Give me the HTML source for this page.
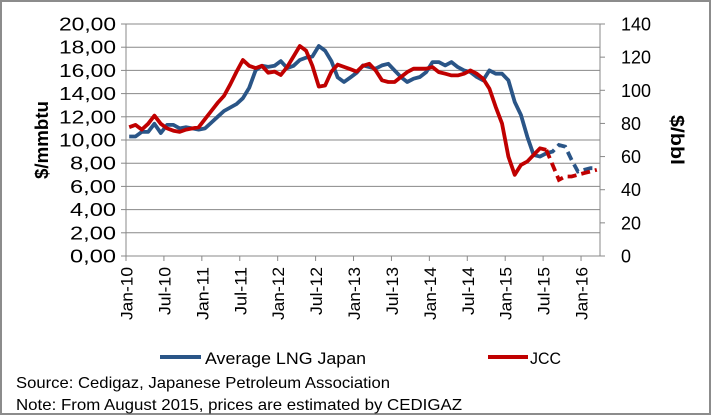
<!DOCTYPE html>
<html><head><meta charset="utf-8"><style>
html,body{margin:0;padding:0;background:#fff}
svg{display:block}
text{font-family:"Liberation Sans",sans-serif;fill:#000}
</style></head><body>
<svg id="s" width="711" height="415" viewBox="0 0 711 415" xmlns="http://www.w3.org/2000/svg">
<rect x="1" y="1" width="709" height="413" fill="#fff" stroke="#8c8c8c" stroke-width="2"/>
<g id="grid"></g>
<text transform="translate(48,140) rotate(-90)" text-anchor="middle" font-size="18" font-weight="bold" textLength="78" lengthAdjust="spacingAndGlyphs">$/mmbtu</text>
<text transform="translate(671,140) rotate(90)" text-anchor="middle" font-size="18" font-weight="bold" textLength="50" lengthAdjust="spacingAndGlyphs">$/bbl</text>
<line x1="160" y1="357" x2="201" y2="357" stroke="#2a5587" stroke-width="4"/>
<text x="205" y="364" font-size="17" textLength="161" lengthAdjust="spacingAndGlyphs">Average LNG Japan</text>
<line x1="488" y1="357" x2="528" y2="357" stroke="#c00000" stroke-width="4"/>
<text x="530" y="364" font-size="17" textLength="31" lengthAdjust="spacingAndGlyphs">JCC</text>
<text x="16" y="388" font-size="16" textLength="374" lengthAdjust="spacingAndGlyphs">Source: Cedigaz, Japanese Petroleum Association</text>
<text x="16" y="410" font-size="16" textLength="446" lengthAdjust="spacingAndGlyphs">Note: From August 2015, prices are estimated by CEDIGAZ</text>
</svg>
<script>
var NS="http://www.w3.org/2000/svg",g=document.getElementById("grid");
function el(t,a,p){var e=document.createElementNS(NS,t);for(var k in a)e.setAttribute(k,a[k]);(p||g).appendChild(e);return e;}
var L=126,R=600,T=24,B=256;
for(var i=0;i<=10;i++){var y=B-(B-T)*i/10;
 if(i>0)el("line",{x1:L,x2:R,y1:y,y2:y,stroke:"#888","stroke-width":1});
 el("line",{x1:L-5,x2:L,y1:y,y2:y,stroke:"#888"});
 var s=(2*i).toFixed(2).replace(".",",");
 var t=el("text",{x:116,y:y+6.5,"text-anchor":"end","font-size":"18",textLength:s.length==5?57:46,lengthAdjust:"spacingAndGlyphs"});t.textContent=s;}
for(var i=0;i<=7;i++){var y=B-(B-T)*i/7;
 el("line",{x1:R,x2:R+5,y1:y,y2:y,stroke:"#888"});
 var s=""+20*i;
 var t=el("text",{x:621,y:y+6.5,"font-size":"18",textLength:s.length*10,lengthAdjust:"spacingAndGlyphs"});t.textContent=s;}
el("line",{x1:L,x2:L,y1:T,y2:B,stroke:"#888"});
el("line",{x1:R,x2:R,y1:T,y2:B,stroke:"#888"});
el("line",{x1:L,x2:R,y1:B,y2:B,stroke:"#888"});
var labs=["Jan-10","Jul-10","Jan-11","Jul-11","Jan-12","Jul-12","Jan-13","Jul-13","Jan-14","Jul-14","Jan-15","Jul-15","Jan-16"];
var dx=(R-L)/75;
for(var i=0;i<13;i++){var x=L+i*6*dx;
 el("line",{x1:x,x2:x,y1:B,y2:B+5,stroke:"#888"});
 var t=el("text",{transform:"translate("+(x+6.5)+",267) rotate(-90)","text-anchor":"end","font-size":"17",textLength:labs[i][0]=="J"&&labs[i][1]=="u"?48:53,lengthAdjust:"spacingAndGlyphs"});t.textContent=labs[i];}
var blueL=[10.3,10.3,10.7,10.7,11.4,10.6,11.3,11.3,11.0,11.1,11.0,10.9,11.0,11.5,12.0,12.5,12.8,13.1,13.6,14.5,16.0,16.4,16.3,16.4,16.8,16.2,16.4,16.9,17.1,17.2,18.1,17.7,16.8,15.4,15.0,15.4,15.8];
var blue=blueL.map(function(v){return v*7}).concat([115,114,113,115,116,112,108,105,107,108,111,117,117,115,117,114,112,111,108,106,112,110,110,106,93,85,72,61,60,62,63,67,66,58,51,52,53,53]);
var redL=[11.1,11.3,10.9,11.4,12.1,11.4,11.0,10.8,10.7,10.9,11.0,11.1,11.8,12.5,13.2,13.8,14.8,15.9,16.9,16.4,16.2,16.4,15.8,15.9,15.6,16.3,17.2,18.1,17.7,16.4,14.6,14.7,15.9,16.5,16.3,16.1,15.9,16.4];
var red=redL.map(function(v){return v*7}).concat([116,112,106,105,105,108,111,113,113,113,114,111,110,109,109,110,112,110,107,101,90,80,60,49,55,57,61,65,64,55,46,48,48,49,50,51,52]);
function pts(a,s,e){var p=[];for(var i=s;i<=e&&i<a.length;i++)p.push((L+(i+0.5)*dx).toFixed(1)+","+(B-a[i]*(B-T)/140).toFixed(1));return p.join(" ");}
function draw(a,c){
 el("polyline",{points:pts(a,0,66),fill:"none",stroke:c,"stroke-width":3.8,"stroke-linejoin":"round"});
 el("polyline",{points:pts(a,66,74),fill:"none",stroke:c,"stroke-width":3.8,"stroke-dasharray":"9,5"});}
draw(blue,"#2a5587");draw(red,"#c00000");
</script>
</body></html>
